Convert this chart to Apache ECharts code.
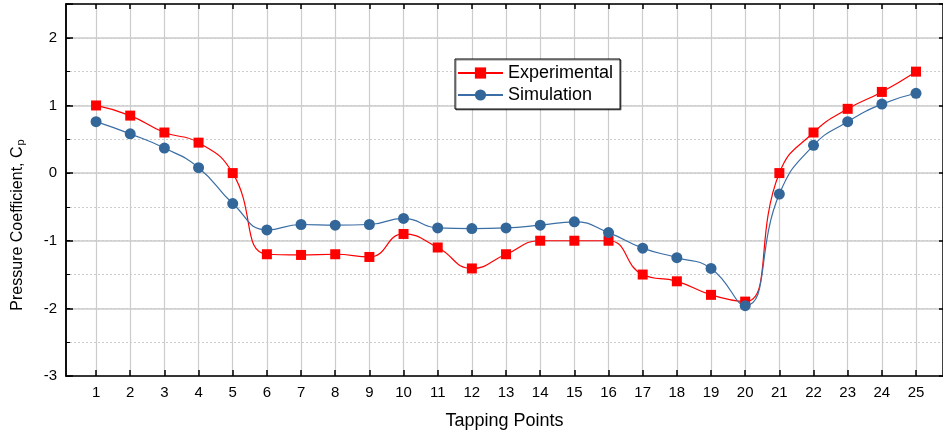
<!DOCTYPE html>
<html>
<head>
<meta charset="utf-8">
<script src="https://cdn.jsdelivr.net/npm/echarts@6/dist/echarts.min.js"></script>
<style>
  html, body { margin: 0; padding: 0; background: #fff; }
  #chart { width: 943px; height: 437px; }
</style>
</head>
<body>
<div id="chart"></div>
<script>
// Tapping point indices along the model surface
const tappingPoints = [1, 2, 3, 4, 5, 6, 7, 8, 9, 10, 11, 12, 13, 14, 15, 16, 17, 18, 19, 20, 21, 22, 23, 24, 25];

// Measured pressure coefficients
const experimental = [1.0, 0.85, 0.6, 0.45, 0.0, -1.2, -1.21, -1.2, -1.24, -0.9, -1.1, -1.41, -1.2, -1.0, -1.0, -1.0, -1.5, -1.6, -1.8, -1.9, 0.0, 0.6, 0.95, 1.2, 1.5];

// CFD pressure coefficients
const simulation = [0.76, 0.58, 0.37, 0.08, -0.45, -0.84, -0.76, -0.77, -0.76, -0.67, -0.81, -0.82, -0.81, -0.77, -0.72, -0.88, -1.11, -1.25, -1.41, -1.96, -0.31, 0.41, 0.76, 1.02, 1.18];

// Y tick labels
const yTicks = [-3, -2, -1, 0, 1, 2];

const FONT = '"Liberation Sans", Arial, sans-serif';
const GRID_GRAY = '#cccccc';

const chart = echarts.init(document.getElementById('chart'), null, { renderer: 'canvas' });

const xRange = { min: 0.12, max: 25.79 };
const yRange = { min: -3, max: 2.5 };

chart.setOption({
  animation: false,
  backgroundColor: '#ffffff',
  grid: { left: 66, right: 0, top: 4, bottom: 61, containLabel: false },
  legend: {
    orient: 'vertical',
    left: 455,
    top: 59,
    padding: [5, 7, 5, 2],
    itemGap: 4,
    itemWidth: 45,
    itemHeight: 14,
    backgroundColor: '#ffffff',
    borderColor: '#000000',
    borderWidth: 1,
    borderRadius: 0,
    shadowColor: 'rgba(0,0,0,0.45)',
    shadowOffsetX: 1,
    shadowOffsetY: 1,
    shadowBlur: 0,
    textStyle: { fontFamily: FONT, fontSize: 18, color: '#000' },
    data: ['Experimental', 'Simulation']
  },
  xAxis: [
    {
      type: 'value',
      position: 'bottom',
      min: xRange.min,
      max: xRange.max,
      name: 'Tapping Points',
      nameLocation: 'middle',
      nameGap: 36,
      nameTextStyle: { fontFamily: FONT, fontSize: 18, color: '#000' },
      axisLine: { show: true, onZero: false, lineStyle: { color: '#000', width: 1.5 } },
      axisTick: { show: true, inside: true, length: 6, customValues: tappingPoints, lineStyle: { color: '#000', width: 1.5 } },
      axisLabel: { show: true, customValues: tappingPoints, margin: 9, fontFamily: FONT, fontSize: 15, color: '#000' },
      splitLine: { show: true, lineStyle: { color: GRID_GRAY, width: 1.2 } }
    },
    {
      type: 'value',
      position: 'top',
      min: xRange.min,
      max: xRange.max,
      axisLine: { show: true, onZero: false, lineStyle: { color: '#000', width: 1.5 } },
      axisTick: { show: true, inside: true, length: 5, customValues: tappingPoints, lineStyle: { color: '#000', width: 1.5 } },
      axisLabel: { show: false },
      splitLine: { show: false }
    }
  ],
  yAxis: [
    {
      // half-step dotted grid and short ticks
      type: 'value',
      position: 'left',
      min: yRange.min,
      max: yRange.max,
      interval: 0.5,
      axisLine: { show: true, onZero: false, lineStyle: { color: '#000', width: 1.5 } },
      axisTick: { show: true, inside: true, length: 4, lineStyle: { color: '#000', width: 1 } },
      axisLabel: { show: false },
      splitLine: { show: true, lineStyle: { color: GRID_GRAY, width: 1, type: [2, 2] } }
    },
    {
      // integer solid grid, long ticks and labels
      type: 'value',
      position: 'left',
      min: yRange.min,
      max: yRange.max,
      interval: 1,
      name: 'Pressure Coefficient, C{sub|p}',
      nameLocation: 'middle',
      nameGap: 40,
      nameTextStyle: {
        fontFamily: FONT, fontSize: 16, color: '#000',
        padding: [0, 70, 0, 0],
        rich: { sub: { fontFamily: FONT, fontSize: 11, color: '#000', verticalAlign: 'bottom', padding: [6, 0, 0, 1] } }
      },
      axisLine: { show: true, onZero: false, lineStyle: { color: '#000', width: 1.5 } },
      axisTick: { show: true, inside: true, length: 7, lineStyle: { color: '#000', width: 1.5 } },
      axisLabel: {
        show: true, margin: 9, fontFamily: FONT, fontSize: 15, color: '#000',
        customValues: yTicks
      },
      splitLine: { show: true, lineStyle: { color: GRID_GRAY, width: 1.5 } }
    },
    {
      // right frame ticks
      type: 'value',
      position: 'right',
      min: yRange.min,
      max: yRange.max,
      interval: 1,
      axisLine: { show: true, onZero: false, lineStyle: { color: '#000', width: 1.5 } },
      axisTick: { show: true, inside: true, length: 4, lineStyle: { color: '#000', width: 1.5 } },
      axisLabel: { show: false },
      splitLine: { show: false }
    }
  ],
  series: [
    {
      name: 'Experimental',
      type: 'line',
      xAxisIndex: 0,
      yAxisIndex: 1,
      smooth: 0.5,
      symbol: 'rect',
      symbolSize: 10,
      itemStyle: { color: '#ff0000' },
      lineStyle: { color: '#ff0000', width: 1.2 },
      data: tappingPoints.map((x, i) => [x, experimental[i]])
    },
    {
      name: 'Simulation',
      type: 'line',
      xAxisIndex: 0,
      yAxisIndex: 1,
      smooth: 0.5,
      symbol: 'circle',
      symbolSize: 11,
      itemStyle: { color: '#336699' },
      lineStyle: { color: '#3a6ea5', width: 1.2 },
      data: tappingPoints.map((x, i) => [x, simulation[i]])
    }
  ]
});
</script>
</body>
</html>
